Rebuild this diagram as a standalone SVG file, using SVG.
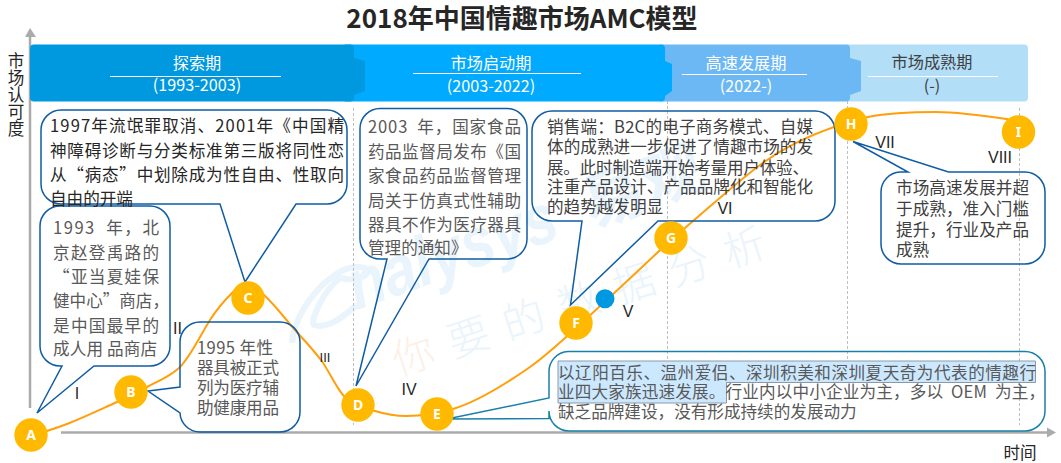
<svg xmlns="http://www.w3.org/2000/svg" width="1061" height="463" viewBox="0 0 1061 463">
<style>
text{font-family:"Noto Sans CJK SC","Noto Sans",sans-serif;font-size:16.600px}
.g{fill:#595959}.d{fill:#404040}.k{fill:#262626}.w{fill:#fff}
.m{text-anchor:middle}
.c{fill:none;stroke:#0F5CA5;stroke-width:1.5}
.div{stroke:#BFBFBF;stroke-width:1;stroke-dasharray:3 2;fill:none}
.ax{stroke:#ABABAB;stroke-width:2.500;fill:none}
.n{fill:#FFB900}
.nt{fill:#fff;font-size:14px;font-weight:700;text-anchor:middle;font-family:"Noto Sans","Noto Sans CJK SC",sans-serif}
.r{font-family:"Liberation Sans",sans-serif;fill:#262626;font-size:16px;text-anchor:middle}
.wm{fill:#E9F4FC}
.b{font-size:16.200px}
</style>
<rect width="1061" height="463" fill="#fff"/>
<g id="watermark">
<path d="M292,343C294,310 330,268 356,267C378,266 366,284 340,278C322,292 310,322 314,325C328,330 345,315 357,305" fill="none" stroke="#E9F4FC" stroke-width="6"/>
<text class="wm" transform="translate(357,310) rotate(-19.500)" textLength="218" lengthAdjust="spacingAndGlyphs" style="font-size:70px;font-weight:700;font-family:'Liberation Sans',sans-serif;font-style:italic">nalysys</text>
<text class="wm" transform="translate(592,228) rotate(-20)" style="font-size:62px;font-weight:700">易观</text>
<text transform="translate(398,376) rotate(-18)" style="font-size:42px;letter-spacing:16px;font-weight:300"><tspan fill="#FDF0E6">你</tspan><tspan fill="#E9F4FC">要的数据分析</tspan></text>
</g>
<g id="title"><text x="522" y="28" class="k m" style="font-size:26px;font-weight:700">2018年中国情趣市场AMC模型</text></g>
<g id="axes">
<path class="ax" d="M30,408V36"/><path d="M25,37L30,28L36,37Z" fill="#ABABAB"/>
<path class="ax" d="M61,432.500H1048"/><path d="M1047,427.500L1056,432.500L1047,437.500Z" fill="#ABABAB"/>
<text x="16" y="52" class="k" style="writing-mode:vertical-rl;letter-spacing:0.400px">市场认可度</text>
<text x="1020" y="459" class="k m">时间</text>
</g>
<g id="dividers">
<path class="div" d="M353.500,108V425"/><path class="div" d="M667.500,101V362"/><path class="div" d="M847.500,101V362"/><path class="div" d="M1019.500,108V425"/>
</g>
<g id="phase-4"><path d="M846,44.500H1024a4,4 0 0 1 4,4V97.500a4,4 0 0 1 -4,4H846Z" fill="#B3DEF8"/>
<text x="932" y="68" class="d m b">市场成熟期</text><path d="M868,76.500H998" stroke="#fff" stroke-width="1"/><text x="932" y="92" class="d m b">(-)</text></g>
<g id="phase-3"><path d="M660,44.500H846a4,4 0 0 1 4,4V58L861,61V91L850,95V97.500a4,4 0 0 1 -4,4H660Z" fill="#6CB8F5"/>
<text x="746" y="69" class="w m b">高速发展期</text><path d="M682,74.500H807" stroke="#fff" stroke-width="1"/><text x="746" y="92" class="w m b">(2022-)</text></g>
<g id="phase-2"><path d="M345,44.500H661a4,4 0 0 1 4,4V61L672,64V91L665,96V97.500a4,4 0 0 1 -4,4H345Z" fill="#00AAFF"/>
<text x="491" y="69" class="w m b">市场启动期</text><path d="M413,73.500H581" stroke="#fff" stroke-width="1"/><text x="491" y="92" class="w m b">(2003-2022)</text></g>
<g id="phase-1"><path d="M34,44.500H350a4,4 0 0 1 4,4V58L365,61V91L354,95V97.500a4,4 0 0 1 -4,4H34a4,4 0 0 1 -4,-4V48.500a4,4 0 0 1 4,-4Z" fill="#0098DF"/>
<text x="197" y="69" class="w m b">探索期</text><path d="M110,76.500H281" stroke="#fff" stroke-width="1"/><text x="197" y="91" class="w m b">(1993-2003)</text></g>
<g id="connectors">
<path d="M31,435C59.700,429.300 88.300,414.900 117,402C127,397.500 137,392.500 147,387C157.700,381.100 168.300,377.600 179,368C189.300,358.700 199.700,336.500 210,320C217.300,308.300 224.700,300.300 232,293C237.300,287.700 242.700,285 248,285C253.300,285 258.700,290.200 264,295C272.300,302.500 280.700,313 289,323C299.700,335.800 310.300,346.100 321,360C328.300,369.500 335.700,387 343,395C353.700,406.800 364.300,407.800 375,411C385.300,414.100 395.700,416 406,416C421.700,416 437.300,413.700 453,409C478.700,401.300 504.300,385 530,367C541.700,358.800 553.300,348.500 565,338C596,310 627,281.500 658,252C667,243.500 676,235.700 685,228C710,206.800 735,183.800 760,165C784.700,146.500 809.300,135.600 834,127C845.300,123 856.700,119.300 868,117C890.700,112.500 913.300,112 936,112C963.700,112 991.300,116.800 1019,121" fill="none" stroke="#FF9F0A" stroke-width="2"/>
</g>
<g id="callout-A"><path class="c" d="M60,206H150A20,20 0 0 1 170,226V346A20,20 0 0 1 150,366H94L37,413L62,366H60A20,20 0 0 1 40,346V226A20,20 0 0 1 60,206Z"/>
<g class="g"><text x="53" y="234" textLength="106">1993&#160;&#160;年，北</text><text x="53" y="259" textLength="106">京赵登禹路的</text><text x="53" y="283" textLength="106">“亚当夏娃保</text><text x="53" y="307" textLength="116">健中心”商店，</text><text x="53" y="332" textLength="106">是中国最早的</text><text x="53" y="355" textLength="104">成人用 品商店</text></g></g>
<g id="callout-B"><path class="c" d="M200,322H280A20,20 0 0 1 300,342V412A20,20 0 0 1 280,432H200A20,20 0 0 1 180,413L148,391L180,387V342A20,20 0 0 1 200,322Z"/>
<g class="g"><text x="197" y="354" textLength="76">1995 年性</text><text x="197" y="374" textLength="82">器具被正式</text><text x="197" y="394" textLength="82">列为医疗辅</text><text x="197" y="414" textLength="82">助健康用品</text></g></g>
<g id="callout-C"><path class="c" d="M61,110H327A20,20 0 0 1 347,130V184A20,20 0 0 1 327,204H296L245,282L220,204H61A20,20 0 0 1 41,184V130A20,20 0 0 1 61,110Z"/>
<g class="k"><text x="50" y="132" textLength="294">1997年流氓罪取消、2001年《中国精</text><text x="50" y="157" textLength="294">神障碍诊断与分类标准第三版将同性恋</text><text x="50" y="181" textLength="294">从“病态”中划除成为性自由、性取向</text><text x="50" y="205">自由的开端</text></g></g>
<g id="callout-D"><path class="c" d="M380,108.500H507A20,20 0 0 1 527,128.500V239A20,20 0 0 1 507,259H429L356,386L387,259H380A20,20 0 0 1 360,239V128.500A20,20 0 0 1 380,108.500Z"/>
<g class="g"><text x="368" y="133" textLength="153">2003&#160;&#160;年，国家食品</text><text x="368" y="158" textLength="153">药品监督局发布《国</text><text x="368" y="182" textLength="153">家食品药品监督管理</text><text x="368" y="207" textLength="153">局关于仿真式性辅助</text><text x="368" y="231" textLength="153">器具不作为医疗器具</text><text x="368" y="254">管理的通知》</text></g></g>
<g id="callout-E"><path d="M568,351.500H1025A20,20 0 0 1 1045,371.500V411A20,20 0 0 1 1025,431H569A20,20 0 0 1 549,411V418.500L447,419L549,398V371.500A20,20 0 0 1 568,351.500Z" fill="none" stroke="#1A7FA8" stroke-width="1.500"/>
<path d="M558,361H1035.500V382.500H726.500V403H558Z" fill="#CCE8FF" stroke="#8C9AA8" stroke-width="1"/>
<g class="g"><text x="558" y="379" textLength="478">以辽阳百乐、温州爱侣、深圳积美和深圳夏天奇为代表的情趣行</text><text x="558" y="398" textLength="487">业四大家族迅速发展。行业内以中小企业为主，多以&#160;&#160;OEM&#160;&#160;为主，</text><text x="558" y="418">缺乏品牌建设，没有形成持续的发展动力</text></g></g>
<g id="callout-F"><path class="c" d="M552,111H815A20,20 0 0 1 835,131V201A20,20 0 0 1 815,221H658L570.500,305L582,221H552A20,20 0 0 1 532,201V131A20,20 0 0 1 552,111Z"/>
<g class="d"><text x="547" y="133" textLength="266">销售端：B2C的电子商务模式、自媒</text><text x="547" y="153" textLength="266">体的成熟进一步促进了情趣市场的发</text><text x="547" y="174" textLength="262">展。此时制造端开始考量用户体验、</text><text x="547" y="193" textLength="266">注重产品设计、产品品牌化和智能化</text><text x="547" y="213">的趋势越发明显</text></g></g>
<g id="callout-H"><path class="c" d="M900,172H908L853,141.500L948.500,172H1025A20,20 0 0 1 1045,192V244A20,20 0 0 1 1025,264H901A20,20 0 0 1 881,244V192A20,20 0 0 1 900,172Z"/>
<g class="d"><text x="896" y="194" textLength="133">市场高速发展并超</text><text x="896" y="215" textLength="133">于成熟，准入门槛</text><text x="896" y="236" textLength="133">提升，行业及产品</text><text x="896" y="256">成熟</text></g></g>
<g id="stage-labels">
<text class="r" x="77" y="398.500">I</text><text class="r" x="177.500" y="334">II</text><text class="r" x="325" y="362" style="font-size:13px">III</text><text class="r" x="409" y="395">IV</text><text class="r" x="628" y="317">V</text><text class="r" x="725" y="213.500">VI</text><text class="r" x="885" y="148">VII</text><text class="r" x="1000" y="163">VIII</text>
</g>
<g id="node-A"><circle class="n" cx="31" cy="435" r="16.700"/><text class="nt" x="31" y="440">A</text></g>
<g id="node-B"><circle class="n" cx="131" cy="392" r="16.700"/><text class="nt" x="131" y="397">B</text></g>
<g id="node-C"><circle class="n" cx="248" cy="298" r="16.700"/><text class="nt" x="248" y="303">C</text></g>
<g id="node-D"><circle class="n" cx="358" cy="405" r="16.700"/><text class="nt" x="358" y="410">D</text></g>
<g id="node-E"><circle class="n" cx="437" cy="414" r="16.700"/><text class="nt" x="437" y="419">E</text></g>
<g id="node-F"><circle class="n" cx="576" cy="323" r="16.700"/><text class="nt" x="576" y="328">F</text></g>
<g id="node-G"><circle class="n" cx="671" cy="238" r="16.700"/><text class="nt" x="671" y="243">G</text></g>
<g id="node-H"><circle class="n" cx="851" cy="124" r="16.700"/><text class="nt" x="851" y="129">H</text></g>
<g id="node-I"><circle class="n" cx="1018.500" cy="132" r="16.700"/><text class="nt" x="1018.500" y="137">I</text></g>
<g id="node-V"><circle cx="605" cy="298.700" r="9.500" fill="#0098E0"/></g>
</svg>
